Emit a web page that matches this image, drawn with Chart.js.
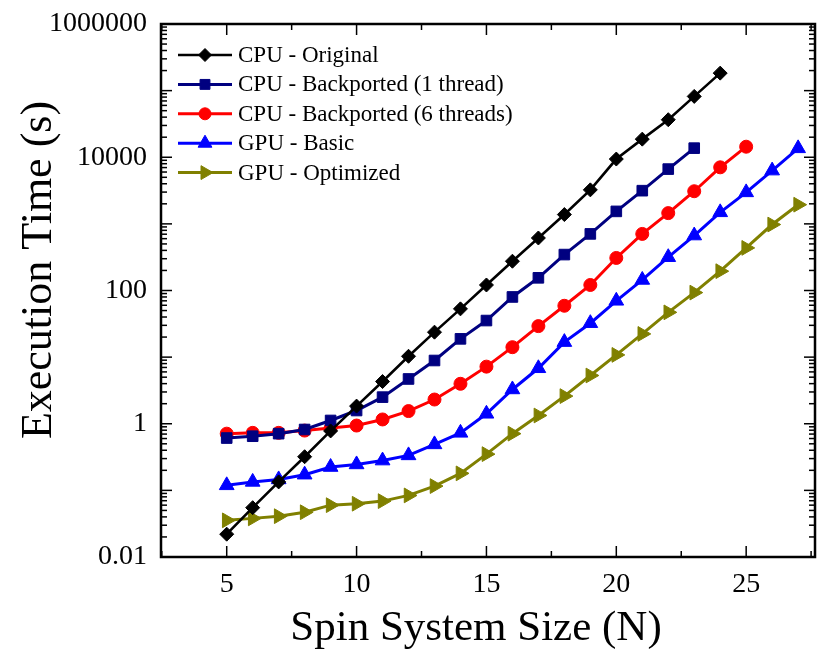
<!DOCTYPE html>
<html>
<head>
<meta charset="utf-8">
<script src="https://cdn.jsdelivr.net/npm/chart.js@4/dist/chart.umd.min.js"></script>
<style>
  html, body { margin: 0; padding: 0; background: #fff; }
  #wrap { width: 825px; height: 654px; }
</style>
</head>
<body>
<div id="wrap"><canvas id="chart" width="825" height="654"></canvas></div>
<script>
(function () {
  "use strict";

  /* ---------- Data ---------- */
  const spinSizes = [5, 6, 7, 8, 9, 10, 11, 12, 13, 14, 15, 16, 17, 18, 19, 20, 21, 22, 23, 24, 25, 26, 27];

  const cpuOriginal = [0.022, 0.055, 0.134, 0.32, 0.78, 1.84, 4.3, 10.3, 23.7, 53, 121, 275, 614, 1380, 3240,
    9400, 18700, 36600, 81900, 183000];
  const cpuBack1 = [0.61, 0.65, 0.71, 0.82, 1.12, 1.58, 2.51, 4.7, 8.9, 18.8, 35.4, 80, 155, 346, 707,
    1540, 3150, 6640, 13700];
  const cpuBack6 = [0.71, 0.73, 0.73, 0.79, 0.86, 0.94, 1.16, 1.55, 2.31, 3.98, 7.2, 14.1, 29.2, 59, 121,
    308, 707, 1450, 3090, 7060, 14400];
  const gpuBasic = [0.119, 0.134, 0.146, 0.172, 0.224, 0.245, 0.28, 0.335, 0.49, 0.73, 1.41, 3.27, 6.8, 16.8, 32.3,
    70, 144, 316, 668, 1490, 2970, 6300, 13600];
  const gpuOpt = [0.0355, 0.038, 0.041, 0.047, 0.060, 0.063, 0.069, 0.084, 0.116, 0.18, 0.35, 0.71, 1.33, 2.6, 5.3,
    10.8, 22.3, 47, 93, 195, 436, 978, 1940];

  const seriesNames = ["CPU - Original", "CPU - Backported (1 thread)", "CPU - Backported (6 threads)", "GPU - Basic", "GPU - Optimized"];
  const xTicks = [5, 10, 15, 20, 25];
  const yTicks = [0.01, 1, 100, 10000, 1000000];
  const xTitle = "Spin System Size (N)";
  const yTitle = "Execution Time (s)";

  const FONT = "'Liberation Serif', 'Times New Roman', serif";

  const toPoints = (vals) => vals.map((v, i) => ({ x: spinSizes[i], y: v }));

  const styles = [
    { color: "#000000", pointStyle: "rectRot", radius: 7, rotation: 0, width: 2.6 },
    { color: "#000080", pointStyle: "rect", radius: 7.5, rotation: 0, width: 3 },
    { color: "#ff0000", pointStyle: "circle", radius: 6.5, rotation: 0, width: 3 },
    { color: "#0000ff", pointStyle: "triangle", radius: 8.5, rotation: 0, width: 3 },
    { color: "#808000", pointStyle: "triangle", radius: 8.5, rotation: 90, width: 3 }
  ];
  const allValues = [cpuOriginal, cpuBack1, cpuBack6, gpuBasic, gpuOpt];

  const datasets = allValues.map((vals, i) => ({
    label: seriesNames[i],
    data: toPoints(vals),
    borderColor: styles[i].color,
    backgroundColor: styles[i].color,
    borderWidth: styles[i].width,
    pointStyle: styles[i].pointStyle,
    pointRadius: styles[i].radius,
    pointRotation: styles[i].rotation,
    pointBorderWidth: 1,
    tension: 0,
    fill: false
  }));

  /* ---------- Frame with inward ticks on all four sides ---------- */
  const framePlugin = {
    id: "frame",
    beforeDatasetsDraw(chart) {
      const { ctx, chartArea: a, scales: { x, y } } = chart;
      ctx.save();
      ctx.strokeStyle = "#000";
      ctx.lineWidth = 1.5;
      const seg = (x1, y1, x2, y2) => { ctx.beginPath(); ctx.moveTo(x1, y1); ctx.lineTo(x2, y2); ctx.stroke(); };
      for (let v = 2.5; v <= 27.5; v += 2.5) {
        const px = x.getPixelForValue(v);
        const len = v % 5 === 0 ? 11 : 6;
        seg(px, a.bottom, px, a.bottom - len);
        seg(px, a.top, px, a.top + len);
      }
      for (let d = -2; d <= 6; d++) {
        for (let m = 1; m <= 9; m++) {
          const v = m * Math.pow(10, d);
          if (v > 1000000 * 1.0001) break;
          const py = y.getPixelForValue(v);
          const len = m === 1 ? 11 : 6;
          seg(a.left, py, a.left + len, py);
          seg(a.right, py, a.right - len, py);
        }
      }
      ctx.lineWidth = 2.5;
      ctx.strokeRect(a.left, a.top, a.right - a.left, a.bottom - a.top);
      ctx.restore();
    }
  };

  /* ---------- Legend (line through marker) and axis titles ---------- */
  const legendPlugin = {
    id: "lineLegend",
    afterDatasetsDraw(chart) {
      const { ctx } = chart;
      ctx.save();
      ctx.font = "23px " + FONT;
      ctx.textBaseline = "middle";
      chart.data.datasets.forEach((ds, i) => {
        const yy = 55 + i * 29.4;
        ctx.strokeStyle = ds.borderColor;
        ctx.fillStyle = ds.backgroundColor;
        ctx.lineWidth = ds.borderWidth;
        ctx.beginPath(); ctx.moveTo(178, yy); ctx.lineTo(232, yy); ctx.stroke();
        ctx.lineWidth = 1;
        Chart.helpers.drawPoint(ctx, { pointStyle: ds.pointStyle, radius: ds.pointRadius - 0.5, rotation: ds.pointRotation, borderWidth: 1 }, 205, yy);
        ctx.fillStyle = "#000";
        ctx.fillText(ds.label, 238, yy + 1);
      });

      ctx.fillStyle = "#000";
      ctx.textAlign = "center";
      ctx.textBaseline = "alphabetic";
      ctx.font = "43px " + FONT;
      ctx.fillText(xTitle, 476, 640);
      ctx.translate(51, 270);
      ctx.rotate(-Math.PI / 2);
      ctx.font = "44px " + FONT;
      ctx.fillText(yTitle, 0, 0);
      ctx.restore();
    }
  };

  new Chart(document.getElementById("chart"), {
    type: "line",
    data: { datasets },
    options: {
      responsive: false,
      animation: false,
      devicePixelRatio: 1,
      layout: { padding: { top: 24, right: 10, left: 0, bottom: 0 } },
      plugins: { legend: { display: false }, tooltip: { enabled: false } },
      scales: {
        x: {
          type: "linear", min: 2.47, max: 27.65,
          afterBuildTicks: (s) => { s.ticks = xTicks.map(v => ({ value: v })); },
          afterFit: (s) => { s.height = 97; },
          grid: { display: false }, border: { display: false },
          ticks: { color: "#000", font: { family: FONT, size: 28 }, padding: 3 }
        },
        y: {
          type: "logarithmic", min: 0.01, max: 1000000,
          afterBuildTicks: (s) => { s.ticks = yTicks.map(v => ({ value: v })); },
          afterFit: (s) => { s.width = 161; },
          grid: { display: false }, border: { display: false },
          ticks: { color: "#000", font: { family: FONT, size: 28 }, padding: 6, callback: (v) => String(v) }
        }
      }
    },
    plugins: [framePlugin, legendPlugin]
  });
})();
</script>
</body>
</html>
